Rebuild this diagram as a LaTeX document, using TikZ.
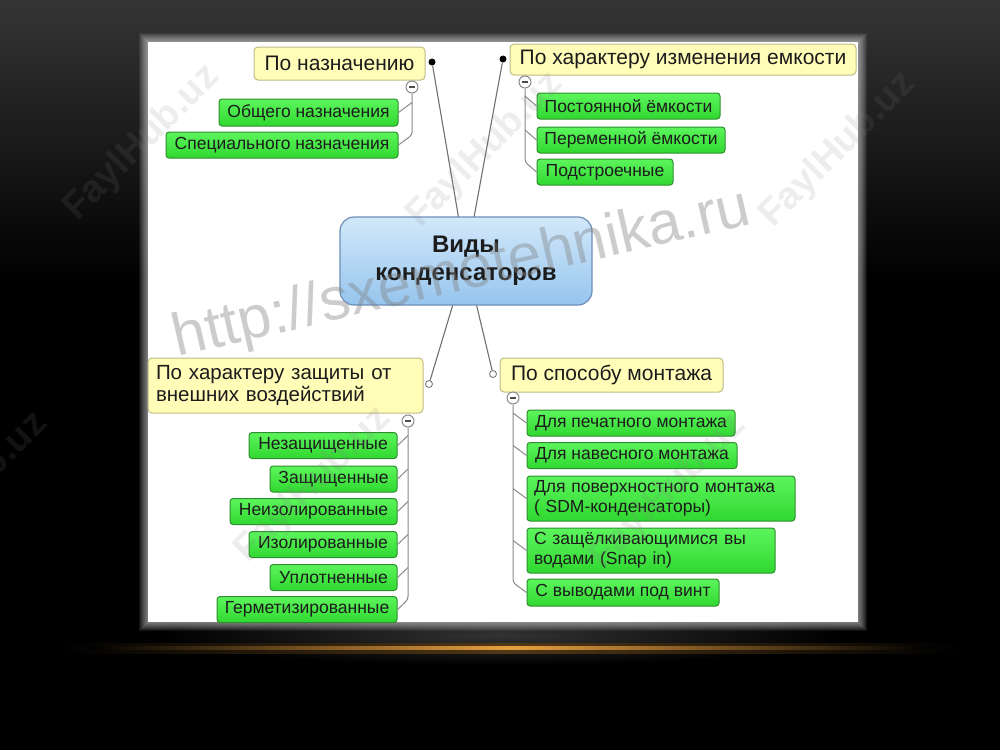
\documentclass[tikz,border=0pt]{standalone}
\usepackage{fontspec}
\setmainfont{Liberation Sans}
\usetikzlibrary{calc}
\definecolor{gtop}{HTML}{5CF55C}
\definecolor{gbot}{HTML}{30D830}
\definecolor{gline}{HTML}{2E8F2E}
\definecolor{yfill}{HTML}{FFFDB8}
\definecolor{yline}{HTML}{BDBB88}
\definecolor{btop}{HTML}{D2E8FA}
\definecolor{bbot}{HTML}{96C5EE}
\definecolor{bline}{HTML}{6F8FB9}
\definecolor{conn}{HTML}{707070}
\definecolor{treec}{HTML}{8A8A8A}
\definecolor{bgtop}{HTML}{353535}
\definecolor{gold}{HTML}{E8A040}
\definecolor{txt}{HTML}{1C1C1C}
\definecolor{wm}{HTML}{808080}
\begin{document}
\begin{tikzpicture}[x=1pt,y=-1pt,
  gbox/.style={draw=gline, line width=1pt, rounded corners=3pt, top color=gtop, bottom color=gbot,
    inner sep=0pt, text=txt, font=\fontsize{17.5}{20}\selectfont},
  ybox/.style={draw=yline, line width=1pt, rounded corners=4pt, fill=yfill,
    inner sep=0pt, text=txt, font=\fontsize{21}{23}\selectfont},
  cbox/.style={draw=bline, line width=1.2pt, rounded corners=14pt, top color=btop, bottom color=bbot,
    inner sep=0pt, text=txt, font=\bfseries\fontsize{24}{28}\selectfont, align=center},
  dotb/.style={circle, fill=black, inner sep=0pt, minimum size=7pt},
  dotw/.style={circle, draw=conn, fill=white, line width=0.8pt, inner sep=0pt, minimum size=7pt},
  minusc/.style={circle, draw=treec, fill=white, line width=1pt, inner sep=0pt, minimum size=12pt,
    path picture={\draw[line width=1.6pt, gray!60!black]
      ([xshift=-3pt]path picture bounding box.center) -- ([xshift=3pt]path picture bounding box.center);}},
  cline/.style={draw=conn, line width=1.1pt},
  tree/.style={draw=treec, line width=1pt, rounded corners=3pt},
  wmark/.style={text=wm, opacity=0.14, font=\bfseries\fontsize{38}{38}\selectfont, rotate=45}
]
\useasboundingbox (0,0) rectangle (1000,750);
% background
\fill[black] (0,0) rectangle (1000,750);
\shade[top color=bgtop, bottom color=black] (0,0) rectangle (1000,280);
\shade[inner color=gray!40!black, outer color=black] (160,605) rectangle (840,665);
\shade[left color=black, right color=black, middle color=gold!35!black] (60,643) rectangle (960,653);
\shade[left color=black, right color=black, middle color=gold] (90,646.6) rectangle (930,649.4);
% panel with glow
\foreach \i in {1,...,9} {\fill[white, opacity=0.07] (148-\i,42-\i) rectangle (858+\i,622+\i);}
\fill[white] (148,42) rectangle (858,622);

% connector end points
\coordinate (cc) at (466,261);
\node[dotb] (p1) at (432,62) {};
\node[dotb] (p2) at (503,59) {};
\node[dotw] (p3) at (429,384) {};
\node[dotw] (p4) at (493,374) {};
\draw[cline] (p1) -- (cc);
\draw[cline] (p2) -- (cc);
\draw[cline] (p3) -- (cc);
\draw[cline] (p4) -- (cc);

% central node
\node[cbox, minimum width=252pt, minimum height=88pt] (c) at (cc) {Виды\\конденсаторов};

% main topics
\node[ybox, minimum width=171pt, minimum height=33pt] (n1) at (339.5,63.5) {По назначению};
\node[ybox, minimum width=346pt, minimum height=31pt] (n2) at (683,59.5) {По характеру изменения емкости};
\node[ybox, minimum width=275pt, minimum height=55pt, text width=259pt, align=left,
  font=\fontsize{20.5}{22}\selectfont] (n3) at (285.5,385.5) {По характеру защиты от\\внешних воздействий};
\node[ybox, minimum width=223pt, minimum height=34pt] (n4) at (611.5,375) {По способу монтажа};

% minus markers
\node[minusc] (m1) at (412,87) {};
\node[minusc] (m2) at (525,82) {};
\node[minusc] (m3) at (408,421) {};
\node[minusc] (m4) at (513,398) {};

% children: По назначению
\node[gbox, minimum width=179pt, minimum height=27pt] (a1) at (308.5,112.5) {Общего назначения};
\node[gbox, minimum width=232pt, minimum height=26pt] (a2) at (282,145) {Специального назначения};
% children: По характеру изменения емкости
\node[gbox, minimum width=183pt, minimum height=26pt] (b1) at (628.5,106) {Постоянной ёмкости};
\node[gbox, minimum width=188pt, minimum height=26pt] (b2) at (631,140) {Переменной ёмкости};
\node[gbox, minimum width=136pt, minimum height=26pt] (b3) at (605,172) {Подстроечные};
% children: защиты
\node[gbox, minimum width=148pt, minimum height=26pt] (e1) at (323,445.5) {Незащищенные};
\node[gbox, minimum width=127pt, minimum height=26pt] (e2) at (333.5,479) {Защищенные};
\node[gbox, minimum width=167pt, minimum height=26pt] (e3) at (313.5,511.5) {Неизолированные};
\node[gbox, minimum width=148pt, minimum height=26pt] (e4) at (323,544.5) {Изолированные};
\node[gbox, minimum width=127pt, minimum height=26pt] (e5) at (333.5,577.5) {Уплотненные};
\node[gbox, minimum width=180pt, minimum height=26pt] (e6) at (307,609.5) {Герметизированные};
% children: монтажа
\node[gbox, minimum width=208pt, minimum height=26pt] (d1) at (631,423) {Для печатного монтажа};
\node[gbox, minimum width=210pt, minimum height=26pt] (d2) at (632,455.5) {Для навесного монтажа};
\node[gbox, minimum width=268pt, minimum height=45pt, text width=254pt, align=left] (d3) at (661,498.5)
  {Для поверхностного монтажа\\( SDM-конденсаторы)};
\node[gbox, minimum width=248pt, minimum height=45pt, text width=234pt, align=left] (d4) at (651,550.5)
  {С защёлкивающимися вы\\водами (Snap in)};
\node[gbox, minimum width=192pt, minimum height=27pt] (d5) at (623,592.5) {С выводами под винт};

% tree connectors
\draw[tree] (m1.south) -- ($(m1.south |- a2.east)+(0,-10)$) -- (a2.east);
\draw[tree] ($(m1.south |- a1.east)+(0,-10)$) -- (a1.east);

\draw[tree] (m2.south) -- ($(m2.south |- b3.west)+(0,-10)$) -- (b3.west);
\draw[tree] ($(m2.south |- b1.west)+(0,-10)$) -- (b1.west);
\draw[tree] ($(m2.south |- b2.west)+(0,-10)$) -- (b2.west);

\draw[tree] (m3.south) -- ($(m3.south |- e6.east)+(0,-10)$) -- (e6.east);
\foreach \k in {e1,e2,e3,e4,e5} {\draw[tree] ($(m3.south |- \k.east)+(0,-10)$) -- (\k.east);}

\draw[tree] (m4.south) -- ($(m4.south |- d5.west)+(0,-10)$) -- (d5.west);
\foreach \k in {d1,d2,d3,d4} {\draw[tree] ($(m4.south |- \k.west)+(0,-10)$) -- (\k.west);}

% watermarks
\node[text=wm, opacity=0.4, rotate=13, font=\fontsize{60}{60}\selectfont] (w0) at (462,275) {http://sxemotehnika.ru};
\node[wmark] (w1) at (142,143) {FaylHub.uz};
\node[wmark] (w2) at (485,150) {FaylHub.uz};
\node[wmark] (w3) at (838,150) {FaylHub.uz};
\node[wmark] (w4) at (-30,490) {FaylHub.uz};
\node[wmark] (w5) at (313,485) {FaylHub.uz};
\node[wmark] (w6) at (668,492) {FaylHub.uz};
\end{tikzpicture}
\end{document}
